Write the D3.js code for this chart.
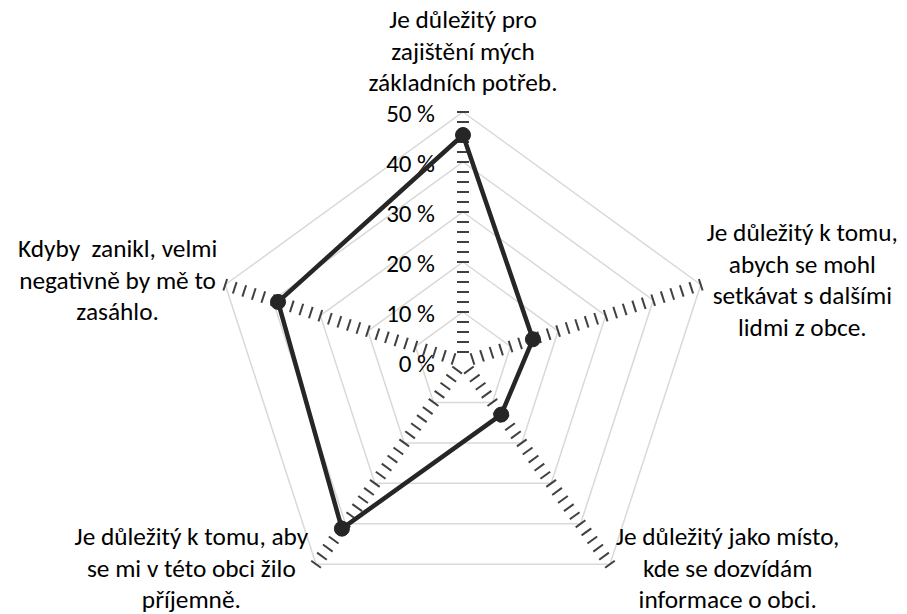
<!DOCTYPE html>
<html>
<head>
<meta charset="utf-8">
<script src="https://cdn.jsdelivr.net/npm/d3@7"></script>
<style>
  html, body { margin: 0; padding: 0; background: #ffffff; }
  svg { display: block; }
  text { font-family: Carlito, Lato, "Noto Sans", sans-serif; fill: #000; white-space: pre; }
</style>
</head>
<body>
<svg id="chart" width="907" height="614"></svg>
<script>
// ---- data ----
const categories = [
  "Je důležitý pro\nzajištění mých\nzákladních potřeb.",
  "Je důležitý k tomu,\nabych se mohl\nsetkávat s dalšími\nlidmi z obce.",
  "Je důležitý jako místo,\nkde se dozvídám\ninformace o obci.",
  "Je důležitý k tomu, aby\nse mi v této obci žilo\npříjemně.",
  "Kdyby  zanikl, velmi\nnegativně by mě to\nzasáhlo."
];
const values = [45.4, 14.7, 13.0, 41.2, 38.9];
const gridLevels = [10, 20, 30, 40, 50];
const tickLabels = ["0 %", "10 %", "20 %", "30 %", "40 %", "50 %"];
const tickValues = [0, 10, 20, 30, 40, 50];

// ---- layout ----
const cx = 463, cy = 362, R = 250;
const fontSize = 25.3, tickFont = 25, lineH = 31.5;
const svg = d3.select("#chart");
const r = d3.scaleLinear().domain([0, 50]).range([0, R]);
const angle = d3.scalePoint().domain(d3.range(categories.length)).range([0, 360 * (categories.length - 1) / categories.length]);
const rad = i => (angle(i) - 90) * Math.PI / 180;
const pt = (i, v) => [cx + r(v) * Math.cos(rad(i)), cy + r(v) * Math.sin(rad(i))];

const g = svg.append("g");

// grid polygons
const lineGen = d3.line();
g.selectAll("path.grid").data(gridLevels).join("path")
  .attr("class", "grid")
  .attr("d", lv => lineGen(d3.range(categories.length).map(i => pt(i, lv))) + "Z")
  .attr("fill", "none").attr("stroke", "#d9d9d9").attr("stroke-width", 1.5);

// axis tick marks (every 2 %)
const minorTicks = d3.range(2, 50.001, 2);
d3.range(categories.length).forEach(i => {
  const a = rad(i), nx = -Math.sin(a), ny = Math.cos(a);
  g.selectAll(null).data(minorTicks).join("line")
    .attr("x1", v => pt(i, v)[0] - 6 * nx).attr("y1", v => pt(i, v)[1] - 6 * ny)
    .attr("x2", v => pt(i, v)[0] + 6 * nx).attr("y2", v => pt(i, v)[1] + 6 * ny)
    .attr("stroke", "#404040").attr("stroke-width", 2);
});

// value labels on first axis
g.selectAll("text.tick").data(tickValues).join("text")
  .attr("class", "tick")
  .attr("x", cx - 28).attr("y", v => cy - r(v) + 9.5)
  .attr("text-anchor", "end").attr("font-size", tickFont)
  .text((v, k) => tickLabels[k]);

// category labels
categories.forEach((c, i) => {
  const lines = c.split("\n");
  const a = rad(i), ca = Math.cos(a), sa = Math.sin(a);
  const end = pt(i, 50);
  const t = g.append("text").attr("font-size", fontSize).attr("text-anchor", "middle");
  const spans = lines.map(l => t.append("tspan").text(l));
  const w = d3.max(spans, s => s.node().getComputedTextLength());
  let xc, baselines;
  if (Math.abs(ca) < 0.1) {
    xc = end[0];
    baselines = lines.map((l, k) => end[1] - 21 - (lines.length - 1 - k) * lineH);
  } else {
    xc = ca > 0 ? end[0] + 6 + w / 2 : end[0] - 8 - w / 2;
    const mean = end[1] + 4 + Math.max(0, sa) * 10.5;
    baselines = lines.map((l, k) => mean + (k - (lines.length - 1) / 2) * lineH);
  }
  spans.forEach((s, k) => s.attr("x", xc).attr("y", baselines[k]));
});

// data series
const pts = values.map((v, i) => pt(i, v));
g.append("path")
  .attr("d", lineGen(pts) + "Z")
  .attr("fill", "none").attr("stroke", "#262626").attr("stroke-width", 4.5)
  .attr("stroke-linejoin", "round");
g.selectAll("circle.m").data(pts).join("circle")
  .attr("class", "m")
  .attr("cx", d => d[0]).attr("cy", d => d[1]).attr("r", 7.5)
  .attr("fill", "#262626").attr("stroke", "#262626").attr("stroke-width", 1);
</script>
</body>
</html>
